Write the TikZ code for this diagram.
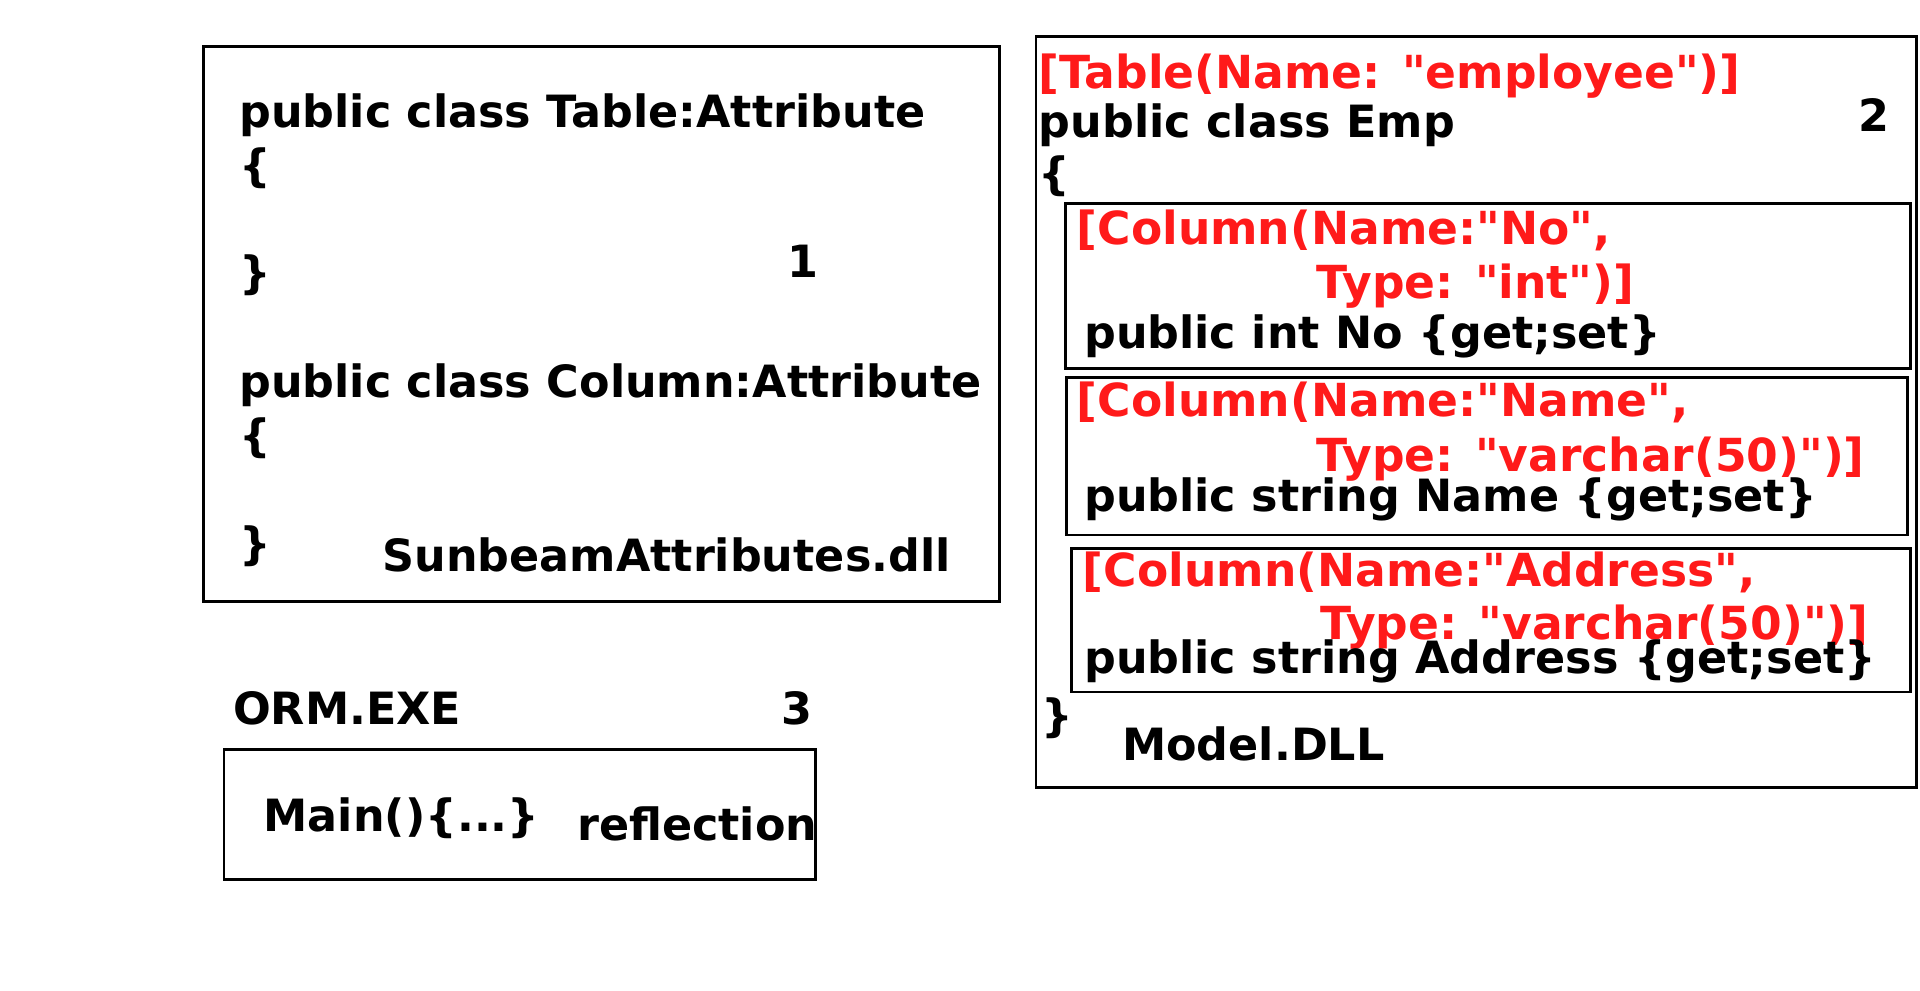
\documentclass[tikz,border=0pt]{standalone}
\usepackage{fontspec}
\setmainfont{DejaVu Sans}[Ligatures=TeXOff]
\definecolor{attred}{RGB}{255,26,26}
\tikzset{
  frame/.style={draw=black, line width=1.1pt},
  code/.style={anchor=base west, inner sep=0pt, font=\fontsize{18.15pt}{22pt}\selectfont\bfseries, text=black},
  attr/.style={code, font=\fontsize{18.6pt}{22pt}\selectfont\bfseries, text=attred},
}
\begin{document}
\begin{tikzpicture}[x=0.5pt,y=-0.5pt]
\useasboundingbox[fill=white] (0,0) rectangle (1568,809.3);
% box 1
\draw[frame] (166,38) rectangle (816,491);
\node[code] (t1) at (195,104) {public class Table:Attribute};
\node[code] (t2) at (195,148) {\{};
\node[code] (t3) at (195,236) {\}};
\node[code] (n1) at (643,227) {1};
\node[code] (t4) at (195,325) {public class Column:Attribute};
\node[code] (t5) at (195,369) {\{};
\node[code] (t6) at (195,457) {\}};
\node[code] (t7) at (312,467) {SunbeamAttributes.dll};
% box 3
\node[code] (orm) at (190,592) {ORM.EXE};
\node[code] (n3) at (638,592) {3};
\draw[frame] (183,612) rectangle (666,718);
\node[code] (main) at (215,679) {Main()\{...\}};
\node[code] (refl) at (471,686) {reflection};
% box 2
\draw[frame] (846,30) rectangle (1565,643);
\node[attr] (tab) at (848,72) {[Table(Name: "employee")]};
\node[code] (emp) at (848,112) {public class Emp};
\node[code] (n2) at (1517,107) {2};
\node[code] (ob) at (848,155) {\{};
\draw[frame] (870,166) rectangle (1560,301);
\node[attr] (c1a) at (879,200) {[Column(Name:"No",};
\node[attr] (c1b) at (1075,244) {Type: "int")]};
\node[code] (c1c) at (885,285) {public int No \{get;set\}};
\draw[frame] (871,308) rectangle (1558,437);
\node[attr] (c2a) at (879,340) {[Column(Name:"Name",};
\node[attr] (c2b) at (1075,385) {Type: "varchar(50)")]};
\node[code] (c2c) at (885,418) {public string Name \{get;set\}};
\draw[frame] (875,448) rectangle (1560,565);
\node[attr] (c3a) at (884,479) {[Column(Name:"Address",};
\node[attr] (c3b) at (1078,522) {Type: "varchar(50)")]};
\node[code] (c3c) at (885,550) {public string Address \{get;set\}};
\node[code] (cb) at (850,597) {\}};
\node[code] (model) at (916,621) {Model.DLL};
\end{tikzpicture}
\end{document}
